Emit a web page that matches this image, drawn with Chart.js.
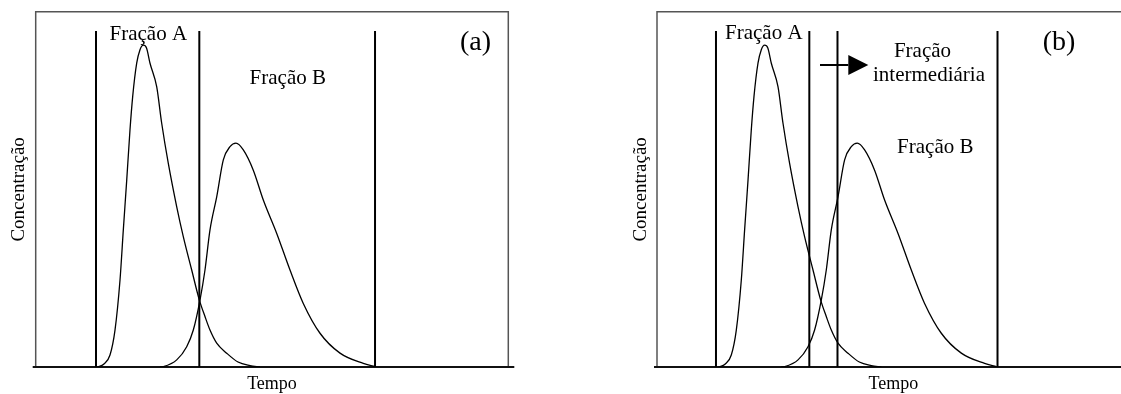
<!DOCTYPE html>
<html>
<head>
<meta charset="utf-8">
<script src="https://cdn.jsdelivr.net/npm/chart.js@4.4.1/dist/chart.umd.min.js"></script>
<style>
    html, body { margin: 0; padding: 0; background: #fff; overflow: hidden; }
    .panel { position: absolute; top: 0; height: 394px; }
</style>
</head>
<body>
<div class="panel" style="left:0;width:560px;"><canvas id="chartA" width="560" height="394"></canvas></div>
<div class="panel" style="left:560px;width:600px;"><canvas id="chartB" width="600" height="394"></canvas></div>
<script>
// elution curves (time 0-100, concentration 0-100)
const timeA = [12.97, 14.45, 15.72, 16.78, 17.84, 18.54, 19.26, 19.95, 20.52, 21.37, 22.07, 22.77, 23.45, 24.19, 25.6, 26.66, 28.06, 29.84, 31.23, 33.01, 34.62, 35.82, 36.88, 38.3, 40.41, 42.81, 45.35, 47.46];
const concA = [0, 0.84, 3.38, 10.4, 24.5, 38.6, 52.6, 66.7, 76.1, 85.5, 89.3, 90.6, 89.8, 85.5, 78.9, 68.6, 57.3, 45.1, 36.7, 27.3, 18.9, 14.2, 10.4, 6.7, 3.9, 1.4, 0.4, 0];
const timeB = [26.3, 27.0, 29.84, 31.95, 33.35, 34.77, 35.82, 36.88, 38.3, 39.7, 41.11, 42.38, 43.93, 46.04, 48.16, 51.0, 53.81, 56.62, 60.16, 64.39, 69.32, 71.8];
const concB = [0, 0.1, 2.0, 5.7, 10.4, 18.9, 27.3, 38.6, 47.9, 58.3, 62.0, 63.0, 61.1, 55.4, 47.0, 37.6, 27.3, 17.9, 9.5, 3.9, 1.0, 0.1];

// cut times of the fractions
const cutsA = [12.76, 34.62, 71.8];
const cutsB = [12.48, 32.23, 38.19, 72.05];
const cutTop = 94.6;

const serif = '"Liberation Serif", "Times New Roman", serif';

function toPoints(xs, ys) {
    return xs.map((x, i) => ({ x: x, y: ys[i] }));
}

const decor = {
    id: 'decor',
    beforeDatasetsDraw(chart, args, opts) {
        const ctx = chart.ctx;
        const a = chart.chartArea;
        ctx.save();
        // frame
        ctx.strokeStyle = '#555';
        ctx.lineWidth = 1.5;
        ctx.beginPath();
        ctx.moveTo(a.left, a.bottom);
        ctx.lineTo(a.left, a.top);
        ctx.lineTo(a.right, a.top);
        ctx.lineTo(a.right, a.bottom);
        ctx.stroke();
        // baseline
        ctx.strokeStyle = '#111';
        ctx.lineWidth = 2;
        ctx.beginPath();
        ctx.moveTo(a.left - 3, a.bottom);
        ctx.lineTo(a.right + 6, a.bottom);
        ctx.stroke();
        ctx.restore();
    },
    afterDatasetsDraw(chart, args, opts) {
        const ctx = chart.ctx;
        const a = chart.chartArea;
        const xs = chart.scales.x, ys = chart.scales.y;
        ctx.save();
        ctx.fillStyle = '#000';
        ctx.textAlign = 'center';
        ctx.textBaseline = 'alphabetic';
        // axis titles
        ctx.font = '18px ' + serif;
        ctx.fillText('Tempo', (a.left + a.right) / 2, a.bottom + 22);
        ctx.save();
        ctx.translate(a.left - 11.5, (a.top + a.bottom) / 2);
        ctx.rotate(-Math.PI / 2);
        ctx.font = '19px ' + serif;
        ctx.fillText('Concentração', 0, 0);
        ctx.restore();
        // labels
        opts.labels.forEach(l => {
            ctx.font = l.size + 'px ' + serif;
            ctx.fillText(l.text, xs.getPixelForValue(l.x), ys.getPixelForValue(l.y));
        });
        // arrow
        if (opts.arrow) {
            const r = opts.arrow;
            const y = ys.getPixelForValue(r.y);
            const x0 = xs.getPixelForValue(r.from);
            const xb = xs.getPixelForValue(r.base);
            const xt = xs.getPixelForValue(r.tip);
            ctx.strokeStyle = '#000';
            ctx.lineWidth = 2;
            ctx.beginPath();
            ctx.moveTo(x0, y);
            ctx.lineTo(xb, y);
            ctx.stroke();
            ctx.beginPath();
            ctx.moveTo(xb, y - 10);
            ctx.lineTo(xt, y);
            ctx.lineTo(xb, y + 10);
            ctx.closePath();
            ctx.fill();
        }
        ctx.restore();
    }
};

function makePanel(id, cuts, padding, labels, arrow) {
    const datasets = [
        { data: toPoints(timeA, concA), borderColor: '#000', borderWidth: 1.3, pointRadius: 0, tension: 0.25, cubicInterpolationMode: 'monotone' },
        { data: toPoints(timeB, concB), borderColor: '#000', borderWidth: 1.3, pointRadius: 0, tension: 0.25, cubicInterpolationMode: 'monotone' }
    ];
    cuts.forEach(c => {
        datasets.push({
            data: [{ x: c, y: 0 }, { x: c, y: cutTop }],
            borderColor: '#000',
            borderWidth: 2,
            pointRadius: 0
        });
    });
    return new Chart(document.getElementById(id).getContext('2d'), {
        type: 'line',
        data: { datasets: datasets },
        options: {
            responsive: false,
            animation: false,
            layout: { padding: padding },
            scales: {
                x: { type: 'linear', min: 0, max: 100, display: false },
                y: { type: 'linear', min: 0, max: 100, display: false }
            },
            plugins: {
                legend: { display: false },
                tooltip: { enabled: false },
                decor: { labels: labels, arrow: arrow }
            }
        },
        plugins: [decor]
    });
}

// Panel (a)
makePanel('chartA', cutsA,
    { left: 35.7, right: 51.7, top: 11.7, bottom: 27 },
    [
        { text: 'Fração A', x: 23.83, y: 92.04, size: 21 },
        { text: 'Fração B', x: 53.34, y: 79.65, size: 21 },
        { text: '(a)', x: 93.06, y: 89.36, size: 28 }
    ],
    null
);

// Panel (b)
makePanel('chartB', cutsB,
    { left: 97, right: 30.4, top: 11.7, bottom: 27 },
    [
        { text: 'Fração A', x: 22.6, y: 92.2, size: 21 },
        { text: 'Fração', x: 56.18, y: 87.17, size: 21 },
        { text: 'intermediária', x: 57.55, y: 80.5, size: 21 },
        { text: 'Fração B', x: 58.89, y: 60.3, size: 21 },
        { text: '(b)', x: 85.06, y: 89.08, size: 28 }
    ],
    { y: 85.0, from: 34.49, base: 40.48, tip: 44.71 }
);
</script>
</body>
</html>
